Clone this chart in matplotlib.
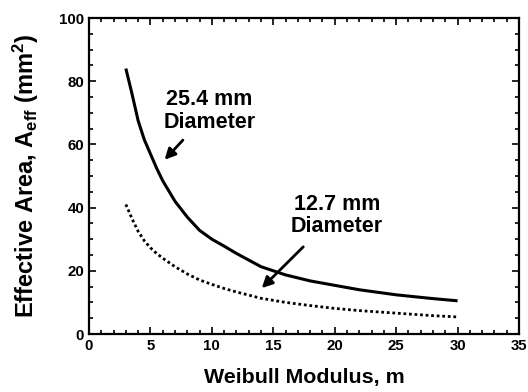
import matplotlib
matplotlib.use("Agg")
import matplotlib.pyplot as plt
from matplotlib.ticker import MultipleLocator

plt.rcParams['font.family'] = ['Liberation Sans', 'DejaVu Sans']
plt.rcParams['font.weight'] = 'bold'
plt.rcParams['mathtext.fontset'] = 'custom'
plt.rcParams['mathtext.rm'] = 'Liberation Sans:bold'
plt.rcParams['mathtext.it'] = 'Liberation Sans:bold'
plt.rcParams['mathtext.bf'] = 'Liberation Sans:bold'

m_values = [3, 3.5, 4, 4.5, 5, 5.5, 6, 7, 8, 9, 10, 11, 12, 14, 16, 18, 20, 22, 25, 28, 30]
area_25_4 = [84, 76, 67.5, 61.5, 57, 52.5, 48.5, 42, 37, 32.8, 30, 27.8, 25.5, 21.3, 18.7, 16.8, 15.4, 14, 12.4, 11.2, 10.5]
area_12_7 = [41, 36.5, 32.5, 29.5, 27.3, 25.5, 24, 21.3, 19, 17.1, 15.7, 14.4, 13.3, 11.3, 10, 9, 8.1, 7.4, 6.6, 5.8, 5.4]

fig = plt.figure(figsize=(5.28, 3.92), dpi=100)
ax = fig.add_axes([89/528, 1 - 334/392, (519-89)/528, (334-18)/392])

ax.plot(m_values, area_25_4, color='black', lw=2.2, solid_capstyle='butt')
ax.plot(m_values, area_12_7, color='black', lw=2.0, linestyle=(0, (1, 1)))

ax.set_xlim(0, 35)
ax.set_ylim(0, 100)
ax.xaxis.set_major_locator(MultipleLocator(5))
ax.xaxis.set_minor_locator(MultipleLocator(1))
ax.yaxis.set_major_locator(MultipleLocator(20))
ax.yaxis.set_minor_locator(MultipleLocator(5))
ax.tick_params(which='both', direction='in', top=True, right=True, width=1.2, labelsize=10.8)
ax.tick_params(which='major', length=5)
ax.tick_params(which='minor', length=3)
for s in ax.spines.values():
    s.set_linewidth(1.6)

ax.set_xlabel('Weibull Modulus, m', fontsize=15.4, fontweight='bold', labelpad=11)
ax.set_ylabel(r'Effective Area, A$_{\rm eff}$ (mm$^{\rm 2}$)', fontsize=17, fontweight='bold', labelpad=13)

ax.text(9.8, 70.6, '25.4 mm\nDiameter', ha='center', va='center', fontsize=15.5,
        fontweight='bold', linespacing=1.08)
ax.annotate('', xy=(6.0, 54.5), xytext=(7.8, 62),
            arrowprops=dict(arrowstyle='-|>', color='black', lw=2, mutation_scale=16))
ax.text(20.2, 37.4, '12.7 mm\nDiameter', ha='center', va='center', fontsize=15.5,
        fontweight='bold', linespacing=1.08)
ax.annotate('', xy=(13.9, 13.9), xytext=(17.6, 28.2),
            arrowprops=dict(arrowstyle='-|>', color='black', lw=2, mutation_scale=16))

fig.savefig('out.png', dpi=100)
